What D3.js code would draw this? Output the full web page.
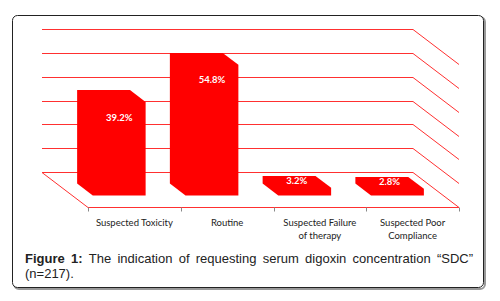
<!DOCTYPE html>
<html>
<head>
<meta charset="utf-8">
<script src="https://cdn.jsdelivr.net/npm/d3@7"></script>
<style>
  body { margin: 0; background: #fff; }
  svg { display: block; }
  .cat { font-family: Lato, "Liberation Sans", sans-serif; font-size: 9.5px; fill: #222; }
  .val { font-family: Lato, "Liberation Sans", sans-serif; font-size: 9.5px; font-weight: bold; fill: #fff; }
  .cap { font-family: "Liberation Sans", Arial, sans-serif; font-size: 13px; fill: #222; }
</style>
</head>
<body>
<svg width="500" height="301"></svg>
<script>
const categories = ["Suspected Toxicity", "Routine", "Suspected Failure\nof therapy", "Suspected Poor\nCompliance"];
const values = [39.2, 54.8, 3.2, 2.8];
const valueLabels = ["39.2%", "54.8%", "3.2%", "2.8%"];
const gridTicks = [0, 10, 20, 30, 40, 50, 60];
const captionBold = ["Figure", "1:"];
const captionWords = ["The", "indication", "of", "requesting", "serum", "digoxin", "concentration", "\u201CSDC\u201D"];
const captionLine2 = "(n=217).";

const svg = d3.select("svg");

// depth of the floor (back -> front) and where the columns sit in it
const DX = 46, DY = 35;
const d0 = 0.33, d1 = 0.67;

const x = d3.scaleBand()
  .domain(categories)
  .range([42, 413])
  .paddingInner(0.43)
  .paddingOuter(0.215);

const y = d3.scaleLinear()
  .domain([0, 60])
  .range([172, 29]);

// frame with a little shadow
svg.append("rect")
  .attr("x", 14).attr("y", 17)
  .attr("width", 471).attr("height", 272)
  .attr("rx", 5)
  .attr("fill", "none")
  .attr("stroke", "#999")
  .attr("stroke-width", 2);
svg.append("rect")
  .attr("x", 12.5).attr("y", 15.5)
  .attr("width", 471).attr("height", 272)
  .attr("rx", 5)
  .attr("fill", "#fff")
  .attr("stroke", "#222")
  .attr("stroke-width", 1);

// gridlines: back wall + right side
const grid = svg.append("g")
  .attr("fill", "none")
  .attr("stroke", "#ff3030")
  .attr("stroke-width", 1);

grid.selectAll("path")
  .data(gridTicks)
  .enter()
  .append("path")
  .attr("d", d => {
    const yy = Math.round(y(d)) + 0.5;
    return `M${x.range()[0]},${yy}H${x.range()[1]}l${DX},${DY}`;
  });

// floor: left edge and front edge
const x0 = x.range()[0], x1 = x.range()[1], yf = Math.round(y(0)) + 0.5;
grid.append("path")
  .attr("d", `M${x0},${yf}l${DX},${DY}H${x1 + DX}`);

// ticks on the front edge
svg.append("g")
  .selectAll("line")
  .data(d3.range(categories.length + 1))
  .enter()
  .append("line")
  .attr("x1", i => Math.round(x0 + DX + i * x.step()) + 0.5)
  .attr("x2", i => Math.round(x0 + DX + i * x.step()) + 0.5)
  .attr("y1", yf + DY)
  .attr("y2", yf + DY + 4)
  .attr("stroke", "#888");

// columns
const data = categories.map((c, i) => ({ cat: c, value: values[i], label: valueLabels[i] }));

svg.selectAll(".bar")
  .data(data)
  .enter()
  .append("path")
  .attr("class", "bar")
  .attr("fill", "#ff0000")
  .attr("d", d => {
    const bx0 = x(d.cat), bx1 = x(d.cat) + x.bandwidth();
    const top = y(d.value), base = y(0);
    const p = [
      [bx0 + d0 * DX, top + d0 * DY],
      [bx1 + d0 * DX, top + d0 * DY],
      [bx1 + d1 * DX, top + d1 * DY],
      [bx1 + d1 * DX, base + d1 * DY],
      [bx0 + d1 * DX, base + d1 * DY],
      [bx0 + d0 * DX, base + d0 * DY]
    ];
    return "M" + p.map(q => q.join(",")).join("L") + "Z";
  });

// value labels
svg.selectAll(".val")
  .data(data)
  .enter()
  .append("text")
  .attr("class", "val")
  .attr("text-anchor", "middle")
  .attr("dominant-baseline", "central")
  .attr("x", d => {
    const big = y(0) - y(d.value) > 30;
    return x(d.cat) + x.bandwidth() / 2 + (big ? d1 : 0.5) * DX;
  })
  .attr("y", d => {
    const big = y(0) - y(d.value) > 30;
    if (big) return y(d.value) + d1 * DY + 15;
    return (y(d.value) + y(0)) / 2 + 0.5 * DY - 5;
  })
  .text(d => d.label);

// category labels
const cats = svg.selectAll(".cat")
  .data(categories)
  .enter()
  .append("text")
  .attr("class", "cat")
  .attr("text-anchor", "middle")
  .attr("x", d => x(d) + x.bandwidth() / 2 + DX)
  .attr("y", 226);

cats.selectAll("tspan")
  .data(d => d.split("\n"))
  .enter()
  .append("tspan")
  .attr("x", function() { return d3.select(this.parentNode).attr("x"); })
  .attr("dy", (d, i) => i === 0 ? 0 : 13)
  .text(d => d);

// caption, first line justified
const capL = 25, capR = 473, capY = 263;
const words = captionBold.map(w => ({ w, bold: true }))
  .concat(captionWords.map(w => ({ w, bold: false })));

const wordNodes = svg.selectAll(".capw")
  .data(words)
  .enter()
  .append("text")
  .attr("class", "cap capw")
  .attr("y", capY)
  .style("font-weight", d => d.bold ? "bold" : "normal")
  .text(d => d.w);

const widths = [];
wordNodes.each(function() { widths.push(this.getComputedTextLength()); });
const gap = (capR - capL - d3.sum(widths)) / (words.length - 1);
let cx = capL;
wordNodes.attr("x", (d, i) => {
  const at = cx;
  cx += widths[i] + gap;
  return at;
});

svg.append("text")
  .attr("class", "cap")
  .attr("x", capL)
  .attr("y", capY + 15)
  .text(captionLine2);
</script>
</body>
</html>
